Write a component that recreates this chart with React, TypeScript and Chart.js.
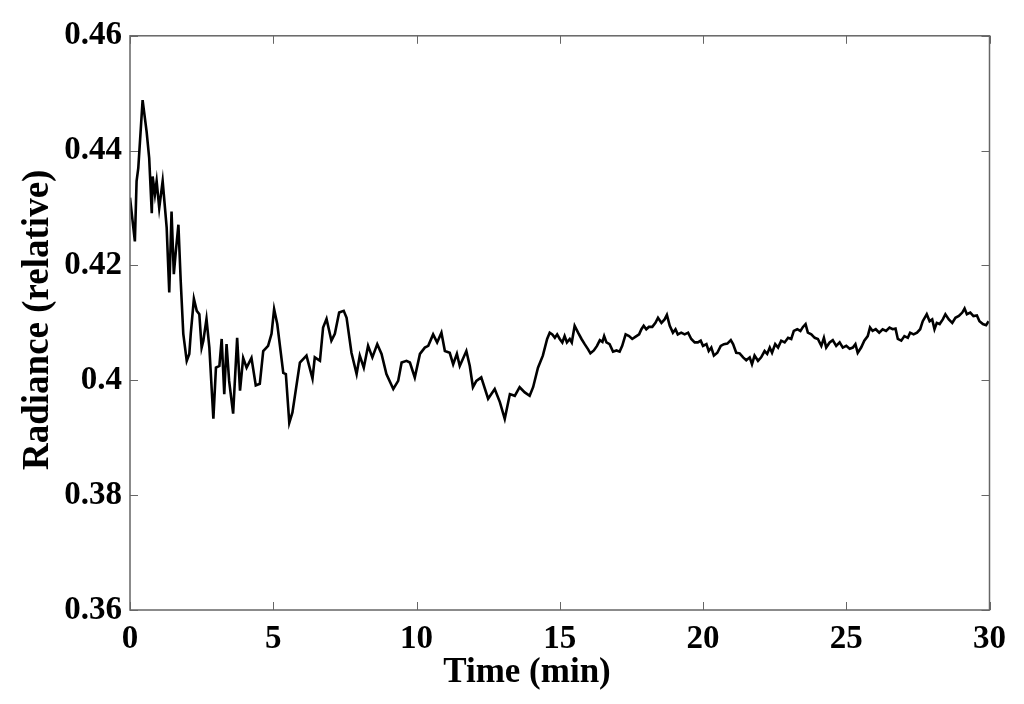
import React, { useEffect, useRef } from "react";
import { Chart, registerables } from "chart.js";

Chart.register(...registerables);

// 0 – 14.6 min
const earlyTime = [
  0, 0.17, 0.23, 0.29, 0.44, 0.58, 0.67, 0.76, 0.79, 0.87, 0.93, 1.02, 1.14, 1.28, 1.37, 1.45, 1.53, 1.6, 1.69, 1.77,
  1.86, 1.98, 2.07, 2.12, 2.23, 2.33, 2.42, 2.5, 2.56, 2.67, 2.77, 2.91, 3.0, 3.12, 3.2, 3.29, 3.37, 3.46, 3.6, 3.74,
  3.84, 3.95, 4.07, 4.24, 4.39, 4.53, 4.65, 4.82, 4.94, 5.03, 5.14, 5.35, 5.44, 5.56, 5.67, 5.93, 6.16, 6.37, 6.45, 6.63,
  6.74, 6.86, 7.03, 7.15, 7.3, 7.46, 7.56, 7.73, 7.91, 8.02, 8.16, 8.31, 8.46, 8.63, 8.78, 8.95, 9.19, 9.36, 9.48, 9.65,
  9.77, 9.94, 10.12, 10.29, 10.41, 10.58, 10.72, 10.87, 10.99, 11.16, 11.28, 11.41, 11.51, 11.74, 11.86, 11.97, 12.09, 12.26, 12.5, 12.73,
  12.91, 13.08, 13.26, 13.43, 13.6, 13.78, 13.95, 14.07, 14.24, 14.41, 14.56,
];
const earlyRadiance = [
  0.4318, 0.4242, 0.4347, 0.437, 0.4488, 0.4433, 0.4387, 0.4291, 0.4355, 0.4324, 0.4347, 0.43, 0.4347, 0.4266, 0.4153, 0.4294, 0.4185, 0.4225, 0.4271, 0.4173,
  0.4081, 0.4034, 0.4046, 0.4081, 0.4142, 0.4121, 0.4115, 0.4057, 0.4069, 0.4107, 0.4057, 0.3933, 0.4022, 0.4025, 0.4072, 0.3976, 0.4063, 0.3999, 0.3942, 0.4074,
  0.3982, 0.4039, 0.4022, 0.4039, 0.3991, 0.3994, 0.4051, 0.406, 0.4081, 0.4124, 0.4098, 0.4013, 0.4011, 0.3926, 0.3944, 0.4031, 0.4043, 0.4003, 0.404, 0.4034,
  0.4092, 0.4107, 0.4069, 0.4081, 0.4118, 0.4121, 0.4109, 0.4048, 0.4011, 0.4043, 0.4022, 0.406, 0.404, 0.4063, 0.4046, 0.4011, 0.3985, 0.3999, 0.4031, 0.4034,
  0.4031, 0.4005, 0.4046, 0.4057, 0.406, 0.408, 0.4066, 0.4083, 0.4051, 0.4048, 0.4028, 0.4046, 0.4025, 0.4051, 0.4025, 0.3988, 0.3999, 0.4005, 0.3968, 0.3985,
  0.3962, 0.3933, 0.3976, 0.3973, 0.3988, 0.3979, 0.3973, 0.3988, 0.4022, 0.4043, 0.4072,
];

// 14.6 – 30 min
const lateTime = [
  14.65, 14.74, 14.83, 14.91, 15.0, 15.09, 15.17, 15.25, 15.35, 15.42, 15.52, 15.64, 15.76, 15.87, 15.99, 16.07, 16.19, 16.3, 16.4, 16.49,
  16.55, 16.63, 16.74, 16.86, 16.98, 17.09, 17.18, 17.3, 17.42, 17.53, 17.65, 17.77, 17.85, 17.93, 18.02, 18.11, 18.23, 18.34, 18.43, 18.55,
  18.66, 18.74, 18.84, 18.95, 19.04, 19.12, 19.24, 19.36, 19.48, 19.59, 19.71, 19.82, 19.92, 20.0, 20.12, 20.2, 20.29, 20.38, 20.5, 20.62,
  20.73, 20.85, 20.97, 21.05, 21.16, 21.28, 21.4, 21.51, 21.63, 21.71, 21.8, 21.92, 22.03, 22.15, 22.24, 22.33, 22.41, 22.52, 22.62, 22.73,
  22.85, 22.97, 23.08, 23.17, 23.29, 23.4, 23.49, 23.58, 23.66, 23.78, 23.9, 24.01, 24.13, 24.22, 24.3, 24.42, 24.53, 24.65, 24.77, 24.88,
  25.0, 25.12, 25.23, 25.32, 25.4, 25.52, 25.63, 25.75, 25.83, 25.92, 26.03, 26.15, 26.27, 26.39, 26.51, 26.62, 26.72, 26.8, 26.92, 27.03,
  27.15, 27.23, 27.35, 27.47, 27.58, 27.67, 27.81, 27.91, 28.0, 28.08, 28.16, 28.26, 28.37, 28.46, 28.58, 28.7, 28.81, 28.93, 29.05, 29.13,
  29.21, 29.33, 29.44, 29.56, 29.65, 29.77, 29.88, 29.97,
];
const lateRadiance = [
  0.4083, 0.408, 0.4074, 0.408, 0.4072, 0.4066, 0.4077, 0.4066, 0.4072, 0.4066, 0.4095, 0.4083, 0.4072, 0.4063, 0.4054, 0.4047, 0.4052, 0.406, 0.407, 0.4067,
  0.4077, 0.4066, 0.4063, 0.405, 0.4052, 0.405, 0.406, 0.408, 0.4077, 0.4072, 0.4076, 0.408, 0.4089, 0.4095, 0.4089, 0.4093, 0.4093, 0.41, 0.4109, 0.41,
  0.4106, 0.4114, 0.4095, 0.4083, 0.4089, 0.408, 0.4083, 0.408, 0.4083, 0.4072, 0.4066, 0.4066, 0.4069, 0.406, 0.4063, 0.4051, 0.4057, 0.4043, 0.4048, 0.406,
  0.4063, 0.4064, 0.407, 0.4063, 0.4048, 0.4047, 0.404, 0.4035, 0.404, 0.4028, 0.4043, 0.4034, 0.404, 0.4051, 0.4046, 0.4057, 0.4048, 0.4063, 0.4057, 0.4069,
  0.4066, 0.4074, 0.4072, 0.4086, 0.4089, 0.4086, 0.4093, 0.4098, 0.4083, 0.408, 0.4074, 0.4072, 0.406, 0.4074, 0.4057, 0.4066, 0.407, 0.406, 0.4066, 0.4057,
  0.406, 0.4055, 0.4057, 0.4063, 0.4048, 0.4057, 0.4069, 0.4077, 0.4092, 0.4086, 0.4089, 0.4083, 0.4089, 0.4086, 0.4092, 0.4089, 0.409, 0.4072, 0.4069, 0.4077,
  0.4074, 0.4083, 0.408, 0.4083, 0.4089, 0.4103, 0.4115, 0.4103, 0.4106, 0.4089, 0.41, 0.4098, 0.4106, 0.4115, 0.4106, 0.41, 0.4109, 0.4112, 0.4118, 0.4125,
  0.4115, 0.4118, 0.4112, 0.4113, 0.4103, 0.4098, 0.4096, 0.4103,
];

const timeMin = [...earlyTime, ...lateTime];
const radiance = [...earlyRadiance, ...lateRadiance];

const xTickValues = [0, 5, 10, 15, 20, 25, 30];
const yTickValues = [0.36, 0.38, 0.4, 0.42, 0.44, 0.46];
const xTitle = "Time (min)";
const yTitle = "Radiance (relative)";

const FONT = "'Liberation Serif', 'Times New Roman', serif";

export default function App() {
  const ref = useRef<HTMLCanvasElement>(null);

  useEffect(() => {
    if (!ref.current) return;

    const framePlugin = {
      id: "frame",
      afterDatasetsDraw(chart: any) {
        const { ctx, chartArea: a, scales } = chart;
        ctx.save();
        ctx.strokeStyle = "#666";
        ctx.lineWidth = 1.5;
        ctx.strokeRect(a.left, a.top, a.right - a.left, a.bottom - a.top);
        const L = 8;
        ctx.lineWidth = 1;
        ctx.beginPath();
        xTickValues.forEach((v) => {
          const x = Math.round(scales.x.getPixelForValue(v)) + 0.5;
          ctx.moveTo(x, a.bottom);
          ctx.lineTo(x, a.bottom - L);
          ctx.moveTo(x, a.top);
          ctx.lineTo(x, a.top + L);
        });
        yTickValues.forEach((v) => {
          const y = Math.round(scales.y.getPixelForValue(v)) + 0.5;
          ctx.moveTo(a.left, y);
          ctx.lineTo(a.left + L, y);
          ctx.moveTo(a.right, y);
          ctx.lineTo(a.right - L, y);
        });
        ctx.stroke();

        ctx.fillStyle = "#000";
        ctx.textAlign = "center";
        ctx.textBaseline = "alphabetic";
        ctx.font = `bold 35px ${FONT}`;
        ctx.fillText(xTitle, a.left + 397, a.bottom + 72);

        ctx.translate(a.left - 92, a.top + 284);
        ctx.rotate(-Math.PI / 2);
        ctx.font = `bold 37px ${FONT}`;
        ctx.textBaseline = "middle";
        ctx.fillText(yTitle, 0, 0);
        ctx.restore();
      },
    };

    const chart = new Chart(ref.current, {
      type: "line",
      data: {
        datasets: [
          {
            data: timeMin.map((t, i) => ({ x: t, y: radiance[i] })),
            borderColor: "#000",
            borderWidth: 2.6,
            pointRadius: 0,
            tension: 0,
            fill: false,
          },
        ],
      },
      options: {
        animation: false,
        responsive: true,
        maintainAspectRatio: false,
        layout: { padding: { top: 26, right: 26, left: 0, bottom: 0 } },
        plugins: { legend: { display: false }, tooltip: { enabled: false }, title: { display: false } },
        scales: {
          x: {
            type: "linear",
            min: 0,
            max: 30,
            grid: { display: false, drawTicks: false },
            border: { display: false },
            afterBuildTicks: (s: any) => {
              s.ticks = xTickValues.map((v) => ({ value: v }));
            },
            afterFit: (s: any) => {
              s.height = 86;
            },
            ticks: {
              autoSkip: false,
              maxRotation: 0,
              padding: 10,
              color: "#000",
              font: { family: FONT, size: 33, weight: "bold" },
              callback: (v: any) => String(v),
            },
          },
          y: {
            type: "linear",
            min: 0.36,
            max: 0.46,
            grid: { display: false, drawTicks: false },
            border: { display: false },
            afterBuildTicks: (s: any) => {
              s.ticks = yTickValues.map((v) => ({ value: v }));
            },
            afterFit: (s: any) => {
              s.width = 122;
            },
            ticks: {
              autoSkip: false,
              padding: 8,
              color: "#000",
              font: { family: FONT, size: 33, weight: "bold" },
              callback: (v: any) => String(Number(Number(v).toFixed(2))),
            },
          },
        },
      },
      plugins: [framePlugin],
    });

    return () => chart.destroy();
  }, []);

  return (
    <div style={{ width: 1008, height: 688, position: "relative" }}>
      <canvas ref={ref} />
    </div>
  );
}
